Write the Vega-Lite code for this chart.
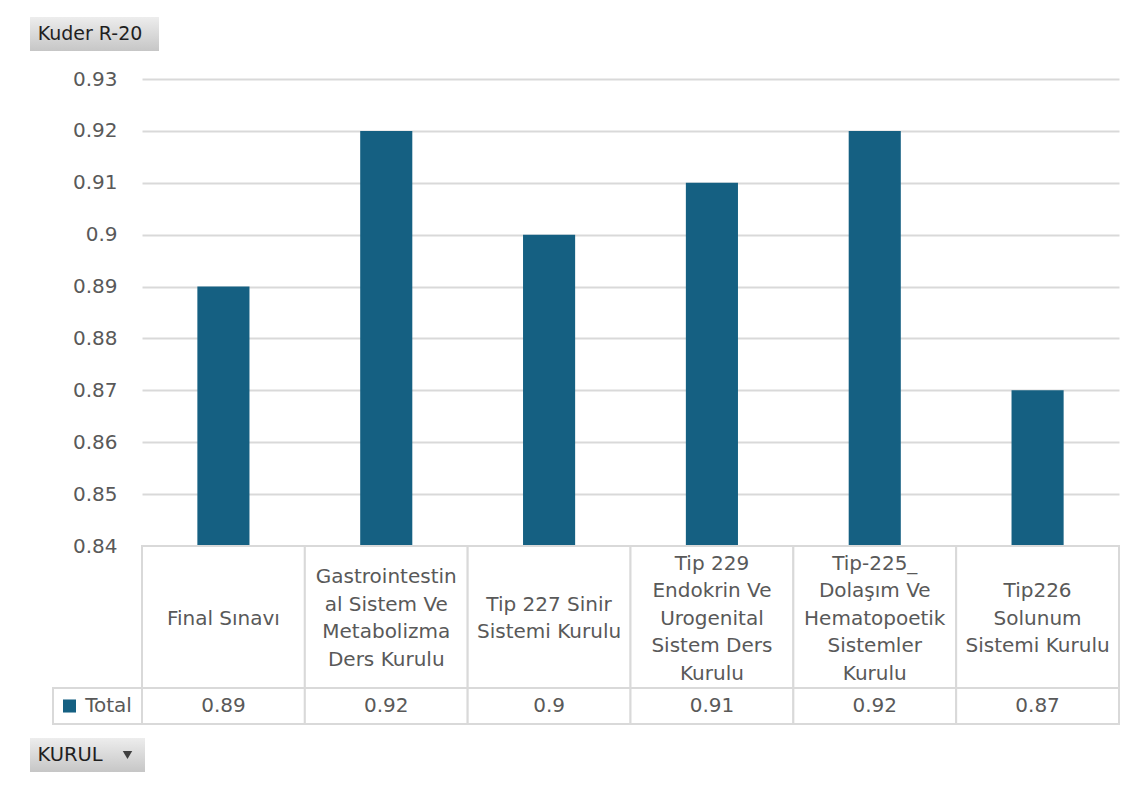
{
  "$schema": "https://vega.github.io/schema/vega-lite/v6.json",
  "padding": {"left": 30, "top": 17, "right": 0, "bottom": 0},
  "background": "white",
  "config": {"view": {"stroke": null}, "font": "DejaVu Sans"},
  "datasets": {
    "d": [
      {"kurul": "Final Sınavı", "label": "Final Sınavı", "total": 0.89},
      {"kurul": "Gastrointestinal Sistem Ve Metabolizma Ders Kurulu", "label": "Gastrointestin\nal Sistem Ve\nMetabolizma\nDers Kurulu", "total": 0.92},
      {"kurul": "Tip 227 Sinir Sistemi Kurulu", "label": "Tip 227 Sinir\nSistemi Kurulu", "total": 0.9},
      {"kurul": "Tip 229 Endokrin Ve Urogenital Sistem Ders Kurulu", "label": "Tip 229\nEndokrin Ve\nUrogenital\nSistem Ders\nKurulu", "total": 0.91},
      {"kurul": "Tip-225_ Dolaşım Ve Hematopoetik Sistemler Kurulu", "label": "Tip-225_\nDolaşım Ve\nHematopoetik\nSistemler\nKurulu", "total": 0.92},
      {"kurul": "Tip226 Solunum Sistemi Kurulu", "label": "Tip226\nSolunum\nSistemi Kurulu", "total": 0.87}
    ],
    "blank": [{}]
  },
  "bounds": "flush",
  "columns": 2,
  "spacing": 0,
  "align": "each",
  "concat": [
    {
      "width": 112,
      "height": 34,
      "data": {"values": [{"t": "Kuder R-20"}]},
      "layer": [
        {
          "mark": {"type": "rect", "x2Offset": 17, "fill": {"gradient": "linear", "x1": 0, "y1": 0, "x2": 0, "y2": 1, "stops": [{"offset": 0, "color": "#ededed"}, {"offset": 1, "color": "#c6c6c6"}]}},
          "encoding": {"x": {"value": 0}, "x2": {"value": "width"}, "y": {"value": 0}, "y2": {"value": "height"}}
        },
        {"mark": {"type": "text", "fontSize": 19, "color": "#1f1f1f", "dx": 4}, "encoding": {"text": {"field": "t", "type": "nominal"}}}
      ]
    },
    {"width": 1, "height": 34, "data": {"name": "blank"}, "mark": "text", "encoding": {"text": {"value": ""}}},

    {"width": 112, "height": 28, "data": {"name": "blank"}, "mark": "text", "encoding": {"text": {"value": ""}}},
    {"width": 977, "height": 28, "data": {"name": "blank"}, "mark": "text", "encoding": {"text": {"value": ""}}},

    {"width": 112, "height": 467, "data": {"name": "blank"}, "mark": "text", "encoding": {"text": {"value": ""}}},
    {
      "width": 977,
      "height": 467,
      "data": {"name": "d"},
      "mark": {"type": "bar", "color": "#156082", "clip": true},
      "encoding": {
        "x": {"field": "kurul", "type": "nominal", "sort": null, "axis": null, "scale": {"paddingInner": 0.68, "paddingOuter": 0.34}},
        "y": {
          "field": "total",
          "type": "quantitative",
          "scale": {"domain": [0.84, 0.93], "zero": false, "nice": false},
          "axis": {
            "values": [0.84, 0.85, 0.86, 0.87, 0.88, 0.89, 0.9, 0.91, 0.92, 0.93],
            "format": "~g",
            "title": null,
            "domain": false,
            "ticks": false,
            "grid": true,
            "gridColor": "#d9d9d9",
            "gridWidth": 2,
            "labelFontSize": 20,
            "labelColor": "#595959",
            "labelPadding": 25
          }
        }
      }
    },

    {"width": 112, "height": 142, "data": {"name": "blank"}, "mark": "text", "encoding": {"text": {"value": ""}}},
    {
      "width": 977,
      "height": 142,
      "data": {"name": "d"},
      "encoding": {"x": {"field": "kurul", "type": "nominal", "sort": null, "axis": null, "scale": {"padding": 0}}},
      "layer": [
        {"mark": {"type": "rect", "fill": "white", "stroke": "#d9d9d9", "strokeWidth": 2}},
        {
          "mark": {"type": "text", "fontSize": 20, "color": "#595959", "lineBreak": "\n", "lineHeight": 27.5, "dy": {"expr": "-(length(split(datum.label, '\\n')) - 1) * 13.75 + 1.5"}},
          "encoding": {"text": {"field": "label", "type": "nominal"}}
        }
      ]
    },

    {
      "width": 112,
      "height": 36,
      "data": {"values": [{"series": "Total"}]},
      "layer": [
        {
          "mark": {"type": "rect", "xOffset": 23, "fill": "white", "stroke": "#d9d9d9", "strokeWidth": 2},
          "encoding": {"x": {"value": 0}, "x2": {"value": "width"}, "y": {"value": 0}, "y2": {"value": "height"}}
        },
        {"mark": {"type": "point", "shape": "square", "filled": true, "size": 170, "color": "#156082", "opacity": 1, "xOffset": -16.5}},
        {"mark": {"type": "text", "fontSize": 20, "color": "#595959", "dx": 22.5}, "encoding": {"text": {"field": "series", "type": "nominal"}}}
      ]
    },
    {
      "width": 977,
      "height": 36,
      "data": {"name": "d"},
      "encoding": {"x": {"field": "kurul", "type": "nominal", "sort": null, "axis": null, "scale": {"padding": 0}}},
      "layer": [
        {"mark": {"type": "rect", "fill": "white", "stroke": "#d9d9d9", "strokeWidth": 2}},
        {"mark": {"type": "text", "fontSize": 20, "color": "#595959"}, "encoding": {"text": {"field": "total", "type": "quantitative", "format": "~g"}}}
      ]
    },

    {"width": 1, "height": 14, "data": {"name": "blank"}, "mark": "text", "encoding": {"text": {"value": ""}}},
    {"width": 1, "height": 14, "data": {"name": "blank"}, "mark": "text", "encoding": {"text": {"value": ""}}},

    {
      "width": 112,
      "height": 34,
      "data": {"values": [{"t": "KURUL"}]},
      "layer": [
        {
          "mark": {"type": "rect", "x2Offset": 3, "fill": {"gradient": "linear", "x1": 0, "y1": 0, "x2": 0, "y2": 1, "stops": [{"offset": 0, "color": "#ededed"}, {"offset": 1, "color": "#c6c6c6"}]}},
          "encoding": {"x": {"value": 0}, "x2": {"value": "width"}, "y": {"value": 0}, "y2": {"value": "height"}}
        },
        {"mark": {"type": "text", "fontSize": 19.5, "color": "#1f1f1f", "dx": -16}, "encoding": {"text": {"field": "t", "type": "nominal"}}},
        {"mark": {"type": "point", "shape": "triangle-down", "filled": true, "size": 90, "color": "#404040", "opacity": 1, "xOffset": 41.5}}
      ]
    },
    {"width": 1, "height": 34, "data": {"name": "blank"}, "mark": "text", "encoding": {"text": {"value": ""}}}
  ]
}
